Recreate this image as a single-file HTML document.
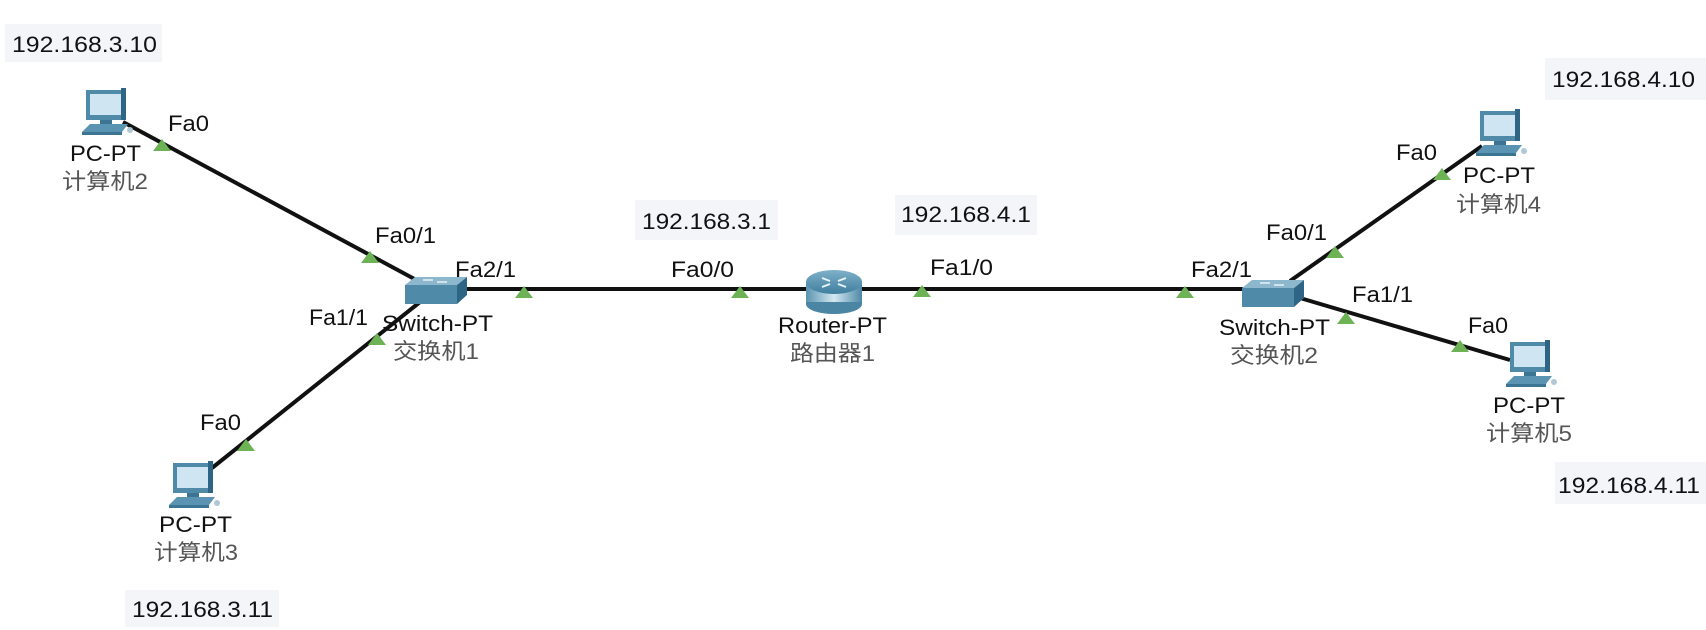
<!DOCTYPE html>
<html><head><meta charset="utf-8"><style>
html,body{margin:0;padding:0;background:#fff;}
svg{display:block;}
text{font-family:"Liberation Sans","Noto Sans CJK SC",sans-serif;}
.l{font-size:22px;fill:#111;}
.c{font-size:22px;fill:#555;}
.ip{font-size:22px;fill:#111;}
</style></head><body>
<svg width="1706" height="630" viewBox="0 0 1706 630" xmlns="http://www.w3.org/2000/svg">
<defs>
<g id="pc">
  <rect x="0" y="0" width="40" height="30" fill="#4f8aa8"/>
  <rect x="4" y="4" width="31" height="21" fill="#cfe6f2"/>
  <rect x="35" y="-2" width="5" height="32" fill="#2e6584"/>
  <rect x="14" y="30" width="12" height="4" fill="#3c7594"/>
  <polygon points="-4,42 4,34 42,34 36,42" fill="#5b94b2"/>
  <rect x="-4" y="42" width="40" height="3" fill="#3c7594"/>
  <circle cx="44" cy="40" r="3" fill="#b0c8d6"/>
</g>
<g id="sw">
  <polygon points="0,8 10,0 62,0 52,8" fill="#8db7cc"/>
  <rect x="0" y="8" width="52" height="19" fill="#4f8aa8"/>
  <polygon points="52,8 62,0 62,18 52,27" fill="#2e6584"/>
  <path d="M18 3 l10 0 M32 5 l10 0" stroke="#e6f1f7" stroke-width="1.5"/>
</g>
<linearGradient id="rg" x1="0" y1="0" x2="0" y2="1"><stop offset="0" stop-color="#7fb0c8"/><stop offset="1" stop-color="#3f7f9f"/></linearGradient>
<linearGradient id="rs" x1="0" y1="0" x2="1" y2="0"><stop offset="0" stop-color="#5a94b0"/><stop offset="0.5" stop-color="#d4e8f2"/><stop offset="1" stop-color="#4d88a6"/></linearGradient>
</defs>

<g stroke="#111" stroke-width="4" fill="none">
  <line x1="123" y1="122" x2="420" y2="282"/>
  <line x1="420" y1="302" x2="212" y2="468"/>
  <line x1="466" y1="289" x2="1245" y2="289"/>
  <line x1="1290" y1="281" x2="1482" y2="146"/>
  <line x1="1300" y1="298" x2="1510" y2="360"/>
</g>
<rect x="670" y="283" width="60" height="3" fill="#fff"/>
<rect x="995" y="283" width="60" height="3" fill="#fff"/>

<g fill="#6db356">
  <polygon points="153,151 162,139 171,151"/>
  <polygon points="361,263 370,251 379,263"/>
  <polygon points="515,298 524,286 533,298"/>
  <polygon points="368,345 377,333 386,345"/>
  <polygon points="237,451 246,439 255,451"/>
  <polygon points="731,298 740,286 749,298"/>
  <polygon points="913,297 922,285 931,297"/>
  <polygon points="1176,298 1185,286 1194,298"/>
  <polygon points="1326,258 1335,246 1344,258"/>
  <polygon points="1433,180 1442,168 1451,180"/>
  <polygon points="1337,324 1346,312 1355,324"/>
  <polygon points="1451,352 1460,340 1469,352"/>
</g>

<use href="#pc" x="86" y="90"/>
<use href="#pc" x="173" y="463"/>
<use href="#pc" x="1480" y="111"/>
<use href="#pc" x="1510" y="342"/>
<use href="#sw" x="405" y="277"/>
<use href="#sw" x="1242" y="280"/>
<g>
  <rect x="806" y="282" width="56" height="22" fill="url(#rs)"/>
  <ellipse cx="834" cy="304" rx="28" ry="10" fill="#4a86a4"/>
  <rect x="806" y="282" width="56" height="20" fill="url(#rs)"/>
  <ellipse cx="834" cy="282" rx="28" ry="12" fill="url(#rg)"/>
  <path d="M822 278 l8 3 M846 278 l-8 3 M822 287 l8 -3 M846 287 l-8 -3" stroke="#e8f3f8" stroke-width="2"/>
</g>

<g fill="#f3f5f9">
  <rect x="5" y="24" width="157" height="38"/>
  <rect x="125" y="590" width="154" height="37"/>
  <rect x="635" y="200" width="143" height="40"/>
  <rect x="895" y="195" width="142" height="40"/>
  <rect x="1545" y="58" width="161" height="42"/>
  <rect x="1555" y="462" width="151" height="42"/>
</g>
<text class="ip" x="12" y="52" textLength="145" lengthAdjust="spacingAndGlyphs">192.168.3.10</text>
<text class="ip" x="132" y="617" textLength="141" lengthAdjust="spacingAndGlyphs">192.168.3.11</text>
<text class="ip" x="642" y="229" textLength="129" lengthAdjust="spacingAndGlyphs">192.168.3.1</text>
<text class="ip" x="901" y="222" textLength="130" lengthAdjust="spacingAndGlyphs">192.168.4.1</text>
<text class="ip" x="1552" y="87" textLength="143" lengthAdjust="spacingAndGlyphs">192.168.4.10</text>
<text class="ip" x="1558" y="493" textLength="142" lengthAdjust="spacingAndGlyphs">192.168.4.11</text>

<text class="l" x="168" y="131" textLength="41" lengthAdjust="spacingAndGlyphs">Fa0</text>
<text class="l" x="375" y="243" textLength="61" lengthAdjust="spacingAndGlyphs">Fa0/1</text>
<text class="l" x="455" y="277" textLength="61" lengthAdjust="spacingAndGlyphs">Fa2/1</text>
<text class="l" x="309" y="325" textLength="59" lengthAdjust="spacingAndGlyphs">Fa1/1</text>
<text class="l" x="200" y="430" textLength="41" lengthAdjust="spacingAndGlyphs">Fa0</text>
<text class="l" x="671" y="277" textLength="63" lengthAdjust="spacingAndGlyphs">Fa0/0</text>
<text class="l" x="930" y="275" textLength="63" lengthAdjust="spacingAndGlyphs">Fa1/0</text>
<text class="l" x="1191" y="277" textLength="61" lengthAdjust="spacingAndGlyphs">Fa2/1</text>
<text class="l" x="1266" y="240" textLength="61" lengthAdjust="spacingAndGlyphs">Fa0/1</text>
<text class="l" x="1396" y="160" textLength="41" lengthAdjust="spacingAndGlyphs">Fa0</text>
<text class="l" x="1352" y="302" textLength="61" lengthAdjust="spacingAndGlyphs">Fa1/1</text>
<text class="l" x="1468" y="333" textLength="40" lengthAdjust="spacingAndGlyphs">Fa0</text>

<text class="l" x="70" y="161" textLength="71" lengthAdjust="spacingAndGlyphs">PC-PT</text>
<text class="c" x="62" y="189" textLength="86" lengthAdjust="spacingAndGlyphs">计算机2</text>
<text class="l" x="159" y="532" textLength="73" lengthAdjust="spacingAndGlyphs">PC-PT</text>
<text class="c" x="154" y="560" textLength="84" lengthAdjust="spacingAndGlyphs">计算机3</text>
<text class="l" x="382" y="331" textLength="111" lengthAdjust="spacingAndGlyphs">Switch-PT</text>
<text class="c" x="393" y="359" textLength="86" lengthAdjust="spacingAndGlyphs">交换机1</text>
<text class="l" x="778" y="333" textLength="109" lengthAdjust="spacingAndGlyphs">Router-PT</text>
<text class="c" x="790" y="361" textLength="85" lengthAdjust="spacingAndGlyphs">路由器1</text>
<text class="l" x="1219" y="335" textLength="111" lengthAdjust="spacingAndGlyphs">Switch-PT</text>
<text class="c" x="1230" y="363" textLength="88" lengthAdjust="spacingAndGlyphs">交换机2</text>
<text class="l" x="1463" y="183" textLength="72" lengthAdjust="spacingAndGlyphs">PC-PT</text>
<text class="c" x="1456" y="212" textLength="85" lengthAdjust="spacingAndGlyphs">计算机4</text>
<text class="l" x="1493" y="413" textLength="72" lengthAdjust="spacingAndGlyphs">PC-PT</text>
<text class="c" x="1486" y="441" textLength="86" lengthAdjust="spacingAndGlyphs">计算机5</text>
</svg>
</body></html>
